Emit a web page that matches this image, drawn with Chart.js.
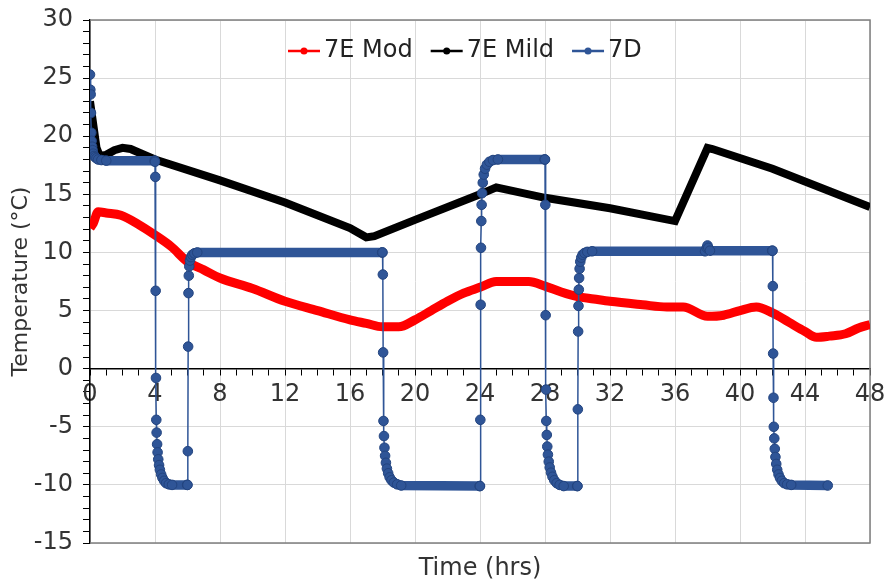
<!DOCTYPE html>
<html>
<head>
<meta charset="utf-8">
<script src="https://cdn.jsdelivr.net/npm/chart.js@4.4.1/dist/chart.umd.min.js"></script>
<style>
  html, body { margin: 0; padding: 0; background: #ffffff; }
  #wrap { width: 885px; height: 583px; }
</style>
</head>
<body>
<div id="wrap"><canvas id="c" width="885" height="583"></canvas></div>
<script>
// ---- data ----
const seriesNames = ['7E Mod', '7E Mild', '7D'];
const xTickLabels = [0, 4, 8, 12, 16, 20, 24, 28, 32, 36, 40, 44, 48];
const yTickLabels = [-15, -10, -5, 0, 5, 10, 15, 20, 25, 30];

const modTime = [0, 0.2, 0.5, 1.0, 1.9, 3, 4, 5, 6, 7, 8, 10, 12, 14, 16, 17, 18, 19, 20, 21, 22, 23, 24, 25, 26, 27, 28, 29, 30, 31, 32, 34, 35.5, 36.5, 38, 39, 40, 41, 42, 43, 44, 44.7, 45.5, 46.5, 47.3, 48];
const modTemp = [12.1, 12.5, 13.5, 13.4, 13.2, 12.4, 11.5, 10.5, 9.2, 8.5, 7.8, 6.9, 5.8, 5.0, 4.2, 3.9, 3.6, 3.6, 4.2, 5.0, 5.8, 6.5, 7.0, 7.5, 7.5, 7.5, 7.1, 6.6, 6.2, 6.0, 5.8, 5.5, 5.3, 5.3, 4.5, 4.6, 5.0, 5.3, 4.8, 4.0, 3.2, 2.7, 2.8, 3.0, 3.5, 3.8];

const mildTime = [0, 0.2, 0.4, 0.6, 1.0, 1.5, 2, 2.5, 3, 4, 8, 12, 16, 17, 17.5, 20, 24, 25, 28, 32, 36, 38, 38.3, 42, 48];
const mildTemp = [23, 21, 19, 18.3, 18.4, 18.8, 19.0, 18.9, 18.6, 18.0, 16.2, 14.3, 12.1, 11.3, 11.4, 12.8, 15.0, 15.6, 14.7, 13.8, 12.7, 19.0, 18.9, 17.2, 13.9];

const d7Time = [
  0.00, 0.02, 0.04, 0.06, 0.08, 0.10, 0.13, 0.16, 0.20, 0.25, 0.32, 0.40, 0.50, 0.70, 1.00, 3.98,
  4.00, 4.02, 4.04, 4.06, 4.08, 4.10, 4.13, 4.16, 4.20, 4.25, 4.30, 4.38, 4.46, 4.56, 4.68, 4.85, 5.05, 5.98,
  6.00, 6.02, 6.04, 6.06, 6.08, 6.11, 6.15, 6.21, 6.30, 6.42, 6.60, 17.98,
  18.00, 18.02, 18.04, 18.06, 18.09, 18.12, 18.16, 18.21, 18.27, 18.35, 18.44, 18.55, 18.70, 18.90, 19.15, 23.98,
  24.00, 24.02, 24.04, 24.06, 24.08, 24.10, 24.13, 24.17, 24.23, 24.31, 24.42, 24.58, 24.80, 25.10, 27.98,
  28.00, 28.02, 28.04, 28.06, 28.08, 28.11, 28.14, 28.18, 28.23, 28.29, 28.37, 28.46, 28.57, 28.72, 28.90, 29.15, 29.98,
  30.00, 30.02, 30.04, 30.06, 30.08, 30.10, 30.13, 30.17, 30.23, 30.31, 30.43, 30.60, 30.90, 37.85, 37.95, 38.00, 38.05, 38.15, 41.98,
  42.00, 42.02, 42.04, 42.06, 42.08, 42.11, 42.14, 42.18, 42.23, 42.29, 42.37, 42.46, 42.57, 42.72, 42.90, 43.15, 45.40
];
const d7Temp = [
  25.3, 24.0, 23.6, 22.0, 20.3, 19.6, 19.1, 18.8, 18.5, 18.3, 18.2, 18.1, 18.0, 17.95, 17.9, 17.9,
  17.8, 16.5, 6.7, -0.8, -4.4, -5.5, -6.5, -7.2, -7.8, -8.3, -8.7, -9.1, -9.4, -9.65, -9.85, -9.95, -10.0, -10.0,
  -10.0, -7.1, 1.9, 6.5, 8.0, 8.8, 9.3, 9.6, 9.8, 9.92, 10.0, 10.0,
  10.0, 8.1, 1.4, -4.5, -5.8, -6.8, -7.5, -8.1, -8.6, -9.0, -9.35, -9.6, -9.8, -9.95, -10.05, -10.1,
  -10.1, -4.4, 5.5, 10.4, 12.7, 14.1, 15.1, 16.0, 16.7, 17.2, 17.55, 17.8, 17.95, 18.0, 18.0,
  18.0, 14.1, 4.6, -1.8, -4.5, -5.7, -6.7, -7.4, -8.0, -8.5, -8.95, -9.3, -9.6, -9.85, -10.0, -10.1, -10.1,
  -10.1, -3.5, 3.2, 5.4, 6.8, 7.8, 8.6, 9.2, 9.55, 9.8, 9.95, 10.05, 10.1, 10.1, 10.4, 10.6, 10.4, 10.15, 10.15,
  10.15, 7.1, 1.3, -2.5, -5.0, -6.0, -6.9, -7.6, -8.2, -8.7, -9.1, -9.4, -9.65, -9.85, -9.95, -10.0, -10.05
];

// ---- chart ----
const FONT = 'DejaVu Sans';
const TEXT = '#333333';
const BLUE = '#2F5597';
const toXY = (xs, ys) => xs.map((x, i) => ({ x: x, y: ys[i] }));

const framePlugin = {
  id: 'frame',
  beforeDatasetsDraw(chart) {
    const { ctx, chartArea: a } = chart;
    ctx.save();
    ctx.strokeStyle = '#7f7f7f';
    ctx.lineWidth = 1.5;
    ctx.beginPath();
    ctx.moveTo(a.left, a.top);
    ctx.lineTo(a.right, a.top);
    ctx.lineTo(a.right, a.bottom);
    ctx.lineTo(a.left, a.bottom);
    ctx.stroke();
    ctx.restore();
  }
};

const innerLegend = {
  id: 'innerLegend',
  afterDraw(chart) {
    const ctx = chart.ctx;
    ctx.save();
    ctx.font = '24px "' + FONT + '"';
    ctx.textBaseline = 'middle';
    ctx.textAlign = 'left';
    let x = 288;
    const y = 51;
    chart.data.datasets.forEach((ds) => {
      const col = ds.legendColor;
      ctx.strokeStyle = col;
      ctx.lineWidth = 2.5;
      ctx.beginPath();
      ctx.moveTo(x, y);
      ctx.lineTo(x + 32, y);
      ctx.stroke();
      ctx.fillStyle = col;
      ctx.beginPath();
      ctx.arc(x + 16, y, 3.5, 0, Math.PI * 2);
      ctx.fill();
      ctx.fillStyle = '#222222';
      ctx.fillText(ds.label, x + 36, y);
      x += 36 + ctx.measureText(ds.label).width + 18;
    });
    ctx.restore();
  }
};

new Chart(document.getElementById('c'), {
  type: 'line',
  data: {
    datasets: [
      {
        label: seriesNames[0],
        data: toXY(modTime, modTemp),
        borderColor: '#FF0000',
        backgroundColor: '#FF0000',
        legendColor: '#FF0000',
        borderWidth: 9,
        pointRadius: 0,
        cubicInterpolationMode: 'monotone',
        order: 3
      },
      {
        label: seriesNames[1],
        data: toXY(mildTime, mildTemp),
        borderColor: '#000000',
        backgroundColor: '#000000',
        legendColor: '#000000',
        borderWidth: 8,
        pointRadius: 0,
        tension: 0,
        order: 2
      },
      {
        label: seriesNames[2],
        data: toXY(d7Time, d7Temp),
        borderColor: BLUE,
        backgroundColor: BLUE,
        legendColor: BLUE,
        borderWidth: 1.5,
        pointRadius: 4.8,
        pointBorderWidth: 1,
        pointBorderColor: '#23447f',
        pointBackgroundColor: BLUE,
        tension: 0,
        order: 1,
        segment: {
          borderWidth: (c) => {
            const dx = Math.abs(c.p1.x - c.p0.x);
            const dy = Math.abs(c.p1.y - c.p0.y);
            return dy < dx ? 9.5 : 1.5;
          }
        }
      }
    ]
  },
  options: {
    responsive: false,
    animation: false,
    devicePixelRatio: 1,
    layout: { padding: { top: 20, right: 15, bottom: 0, left: 0 } },
    plugins: {
      legend: { display: false },
      tooltip: { enabled: false }
    },
    scales: {
      x: {
        type: 'linear',
        position: { y: 0 },
        min: 0,
        max: 48,
        ticks: {
          stepSize: 1,
          autoSkip: false,
          maxRotation: 0,
          minRotation: 0,
          padding: 6,
          color: TEXT,
          font: { family: FONT, size: 24 },
          callback: (v) => (xTickLabels.includes(v) ? String(v) : '')
        },
        grid: {
          color: (c) => (c.tick && xTickLabels.includes(c.tick.value) ? '#d9d9d9' : 'rgba(0,0,0,0)'),
          tickColor: '#000000',
          tickLength: 6,
          lineWidth: 1
        },
        border: { display: true, color: '#000000', width: 1.5 },
        afterFit: (s) => { s.paddingLeft = 0; s.paddingRight = 0; s.paddingTop = 0; s.paddingBottom = 0; }
      },
      x2: {
        type: 'linear',
        position: 'bottom',
        min: 0,
        max: 48,
        ticks: { display: false },
        grid: { display: false, drawTicks: false },
        border: { display: false },
        title: {
          display: true,
          text: 'Time (hrs)',
          color: TEXT,
          font: { family: FONT, size: 24 },
          padding: { top: 11, bottom: 0 }
        },
        afterFit: (s) => { s.height = 40; s.paddingLeft = 0; s.paddingRight = 0; }
      },
      y: {
        type: 'linear',
        position: 'left',
        min: -15,
        max: 30,
        ticks: {
          stepSize: 1,
          autoSkip: false,
          padding: 10,
          color: TEXT,
          font: { family: FONT, size: 24 },
          callback: (v) => (yTickLabels.includes(v) ? String(v) : '')
        },
        grid: {
          color: (c) => (c.tick && yTickLabels.includes(c.tick.value) ? '#d9d9d9' : 'rgba(0,0,0,0)'),
          tickColor: '#000000',
          tickLength: 7,
          lineWidth: 1
        },
        border: { display: true, color: '#000000', width: 1.5 },
        title: {
          display: true,
          text: 'Temperature (°C)',
          color: TEXT,
          font: { family: FONT, size: 22 },
          padding: { top: 8, bottom: 0 }
        },
        afterFit: (s) => { s.width = 90; s.paddingTop = 0; s.paddingBottom = 0; }
      }
    }
  },
  plugins: [framePlugin, innerLegend]
});
</script>
</body>
</html>
